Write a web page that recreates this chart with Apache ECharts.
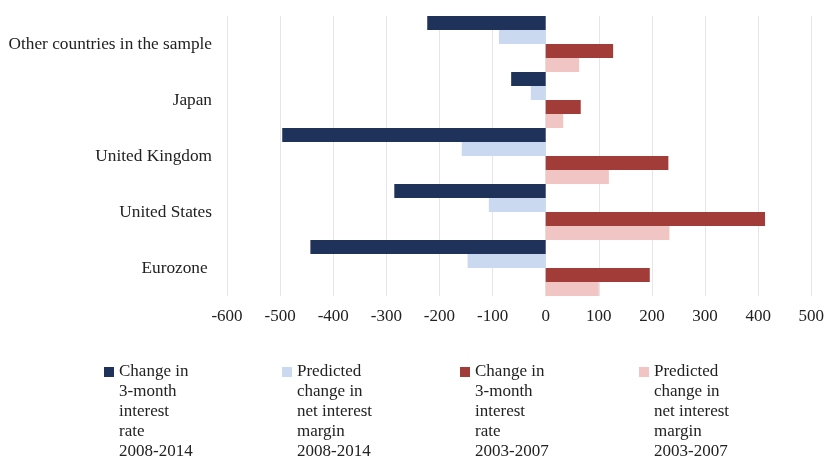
<!DOCTYPE html>
<html>
<head>
<meta charset="utf-8">
<script src="https://cdn.jsdelivr.net/npm/echarts@6/dist/echarts.min.js"></script>
<style>
  html, body { margin: 0; padding: 0; background: #fff; }
  #chart { width: 827px; height: 456px; }
</style>
</head>
<body>
<div id="chart"></div>
<script>
// Countries, listed top to bottom
const categories = ['Other countries in the sample', 'Japan', 'United Kingdom', 'United States', 'Eurozone '];

// Basis-point changes per country
const rateChange0814 = [-223, -65, -496, -285, -443];
const nimPredicted0814 = [-88, -28, -158, -107, -147];
const rateChange0307 = [127, 66, 231, 413, 196];
const nimPredicted0307 = [63, 33, 119, 233, 100];

const xTicks = { min: -600, max: 500, step: 100 };

const seriesNames = [
  'Change in\n3-month\ninterest\nrate\n2008-2014',
  'Predicted\nchange in\nnet interest\nmargin\n2008-2014',
  'Change in\n3-month\ninterest\nrate\n2003-2007',
  'Predicted\nchange in\nnet interest\nmargin\n2003-2007'
];
const seriesColors = ['#1F3259', '#CAD8F0', '#A23C38', '#F2C5C5'];
const seriesData = [rateChange0814, nimPredicted0814, rateChange0307, nimPredicted0307];

const FONT = 'Liberation Serif';
const legendLeft = [104, 282, 460, 639];

// Legend swatch: a square sitting beside the first text line of a tall,
// five-line entry (the zero-length segments only set the icon's extent).
const swatchIcon = 'path://M0,5L10,5L10,15L0,15Z M0,0L0.01,0 M0,100L0.01,100';

const chart = echarts.init(document.getElementById('chart'), null, { renderer: 'canvas' });

chart.setOption({
  animation: false,
  backgroundColor: '#fff',
  textStyle: { fontFamily: FONT },
  grid: { left: 227, right: 15, top: 16, bottom: 160, containLabel: false },
  xAxis: {
    type: 'value',
    min: xTicks.min,
    max: xTicks.max,
    interval: xTicks.step,
    axisLine: { show: false },
    axisTick: { show: false },
    splitLine: { show: true, lineStyle: { color: '#E6E6E6', width: 1 } },
    axisLabel: { color: '#222', fontSize: 17, fontFamily: FONT, margin: 12 }
  },
  yAxis: {
    type: 'category',
    inverse: true,
    data: categories,
    axisLine: { show: false },
    axisTick: { show: false },
    axisLabel: { color: '#222', fontSize: 17.3, fontFamily: FONT, margin: 15, padding: [2, 0, 0, 0] }
  },
  legend: seriesNames.map((name, i) => ({
    data: [name],
    left: legendLeft[i],
    top: 362,
    padding: 0,
    orient: 'horizontal',
    itemWidth: 10,
    itemHeight: 100,
    icon: swatchIcon,
    selectedMode: false,
    textStyle: {
      color: '#222',
      fontSize: 17,
      fontFamily: FONT,
      lineHeight: 20
    }
  })),
  series: seriesNames.map((name, i) => ({
    name: name,
    type: 'bar',
    data: seriesData[i],
    barGap: '0%',
    barCategoryGap: '0%',
    itemStyle: { color: seriesColors[i] }
  }))
});
</script>
</body>
</html>
